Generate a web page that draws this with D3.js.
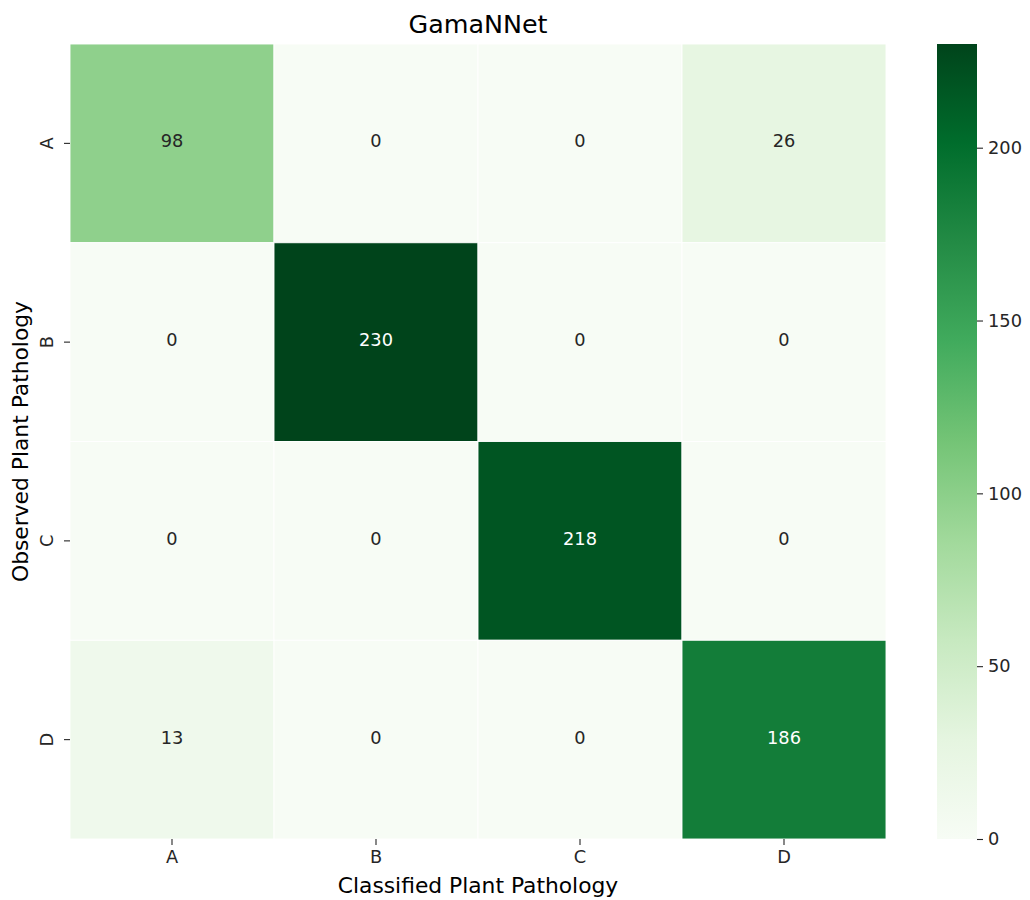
<!DOCTYPE html>
<html>
<head>
<meta charset="utf-8">
<script src="https://cdn.jsdelivr.net/npm/d3@7"></script>
<style>
  html, body { margin: 0; padding: 0; background: #fff; }
  svg { display: block; font-family: "DejaVu Sans", sans-serif; }
</style>
</head>
<body>
<svg id="chart" width="1030" height="900"></svg>
<script>
// ---- data ----
const title = "GamaNNet";
const xLabel = "Classified Plant Pathology";
const yLabel = "Observed Plant Pathology";
const predictedClasses = ["A", "B", "C", "D"];
const observedClasses = ["A", "B", "C", "D"];
const rowA = [98, 0, 0, 26];
const rowB = [0, 230, 0, 0];
const rowC = [0, 0, 218, 0];
const rowD = [13, 0, 0, 186];
const matrix = [rowA, rowB, rowC, rowD];
const colorbarTicks = [0, 50, 100, 150, 200];
const valueMin = 0;
const valueMax = 230;
// matplotlib "Greens" anchor colours
const greens = ["#f7fcf5", "#e5f5e0", "#c7e9c0", "#a1d99b", "#74c476", "#41ab5d", "#238b45", "#006d2c", "#00441b"];

// ---- layout ----
const svg = d3.select("#chart");
const plot = { left: 70, right: 886, top: 44, bottom: 839 };
const cbar = { left: 937, right: 977, top: 44, bottom: 839 };
const tickFont = 17.8, labelFont = 21.8, titleFont = 25.4;
const textDark = "#262626";

const x = d3.scaleBand().domain(predictedClasses).range([plot.left, plot.right]);
const y = d3.scaleBand().domain(observedClasses).range([plot.top, plot.bottom]);
const color = d3.scaleLinear()
  .domain(greens.map((_, i) => valueMin + (valueMax - valueMin) * i / (greens.length - 1)))
  .range(greens)
  .interpolate(d3.interpolateRgb)
  .clamp(true);

const cells = [];
matrix.forEach((row, i) => row.forEach((v, j) => cells.push({ obs: observedClasses[i], pred: predictedClasses[j], v })));

function luminance(c) {
  const rgb = d3.rgb(c);
  const f = u => { u /= 255; return u <= 0.03928 ? u / 12.92 : Math.pow((u + 0.055) / 1.055, 2.4); };
  return 0.2126 * f(rgb.r) + 0.7152 * f(rgb.g) + 0.0722 * f(rgb.b);
}

const g = svg.append("g");
g.selectAll("rect.cell").data(cells).join("rect")
  .attr("class", "cell")
  .attr("x", d => x(d.pred))
  .attr("y", d => y(d.obs))
  .attr("width", x.bandwidth())
  .attr("height", y.bandwidth())
  .attr("fill", d => color(d.v))
  .attr("stroke", "#fff")
  .attr("stroke-width", 0.9);

g.selectAll("text.ann").data(cells).join("text")
  .attr("class", "ann")
  .attr("x", d => x(d.pred) + x.bandwidth() / 2)
  .attr("y", d => y(d.obs) + y.bandwidth() / 2 - 2.5)
  .attr("text-anchor", "middle")
  .attr("dominant-baseline", "central")
  .attr("font-size", tickFont)
  .attr("fill", d => luminance(color(d.v)) > 0.408 ? textDark : "#ffffff")
  .text(d => d.v);

// x axis
const xAxis = d3.axisBottom(x).tickSize(6).tickPadding(5);
const xg = svg.append("g").attr("transform", `translate(0,${plot.bottom})`).call(xAxis);
xg.select(".domain").remove();
xg.selectAll(".tick line").attr("stroke", textDark).attr("stroke-width", 1.1);
xg.selectAll(".tick text").attr("font-size", tickFont).attr("fill", textDark).attr("font-family", "DejaVu Sans");

// y axis
const yAxis = d3.axisLeft(y).tickSize(6).tickPadding(5);
const yg = svg.append("g").attr("transform", `translate(${plot.left},0)`).call(yAxis);
yg.select(".domain").remove();
yg.selectAll(".tick line").attr("stroke", textDark).attr("stroke-width", 1.1);
yg.selectAll(".tick text")
  .attr("font-size", tickFont).attr("fill", textDark).attr("font-family", "DejaVu Sans")
  .attr("x", null).attr("dy", null)
  .attr("text-anchor", "middle")
  .attr("transform", "translate(-23.5,0) rotate(-90)")
  .attr("y", 0)
  .attr("dominant-baseline", "central");

// title and axis labels
svg.append("text")
  .attr("x", (plot.left + plot.right) / 2).attr("y", 33)
  .attr("text-anchor", "middle").attr("font-size", titleFont).attr("fill", "#000")
  .text(title);
svg.append("text")
  .attr("x", (plot.left + plot.right) / 2).attr("y", 893)
  .attr("text-anchor", "middle").attr("font-size", labelFont).attr("fill", "#000")
  .text(xLabel);
svg.append("text")
  .attr("transform", `translate(28,${(plot.top + plot.bottom) / 2}) rotate(-90)`)
  .attr("text-anchor", "middle").attr("font-size", labelFont).attr("fill", "#000")
  .text(yLabel);

// colorbar
const cy = d3.scaleLinear().domain([valueMin, valueMax]).range([cbar.bottom, cbar.top]);
const defs = svg.append("defs");
const grad = defs.append("linearGradient").attr("id", "cbgrad")
  .attr("x1", 0).attr("y1", 1).attr("x2", 0).attr("y2", 0);
greens.forEach((c, i) => grad.append("stop").attr("offset", i / (greens.length - 1)).attr("stop-color", c));
svg.append("rect")
  .attr("x", cbar.left).attr("y", cbar.top)
  .attr("width", cbar.right - cbar.left).attr("height", cbar.bottom - cbar.top)
  .attr("fill", "url(#cbgrad)");
const cAxis = d3.axisRight(cy).tickValues(colorbarTicks).tickSize(6).tickPadding(5);
const cg = svg.append("g").attr("transform", `translate(${cbar.right},0)`).call(cAxis);
cg.select(".domain").remove();
cg.selectAll(".tick line").attr("stroke", textDark).attr("stroke-width", 1.1);
cg.selectAll(".tick text").attr("font-size", tickFont).attr("fill", textDark).attr("font-family", "DejaVu Sans");
</script>
</body>
</html>
